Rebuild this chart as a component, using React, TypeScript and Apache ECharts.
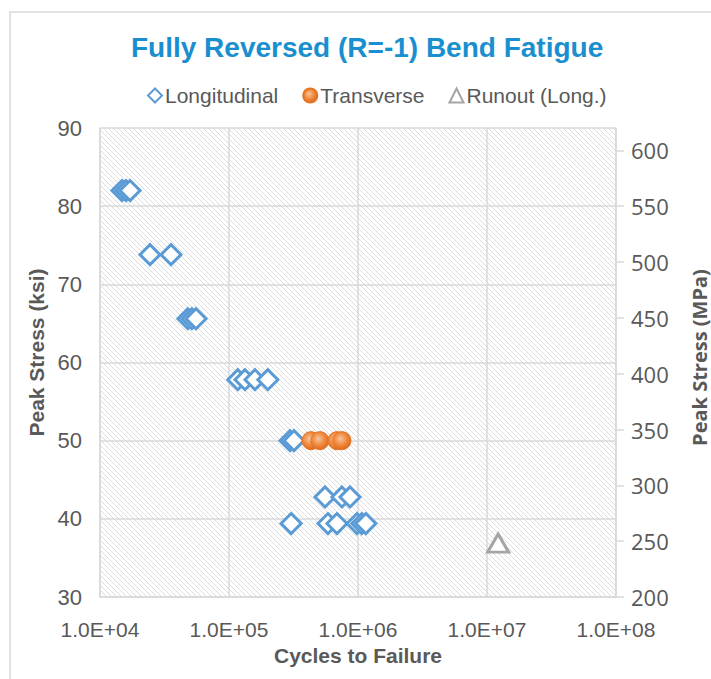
import React, { useEffect, useRef } from "react";
import * as echarts from "echarts";

// ---- data ----
const longCycles = [14800, 15900, 17100, 24400, 35500, 48000, 51600, 55500, 117000, 133000, 159000, 200000, 297000, 319000, 555000, 751000, 867000, 303000, 585000, 687000, 982000, 1070000, 1150000];
const longStress = [82, 82, 82, 73.8, 73.8, 65.6, 65.6, 65.6, 57.8, 57.8, 57.8, 57.8, 50, 50, 42.8, 42.8, 42.8, 39.4, 39.4, 39.4, 39.4, 39.4, 39.4];
const transCycles = [432000, 507000, 687000, 751000];
const transStress = [50, 50, 50, 50];
const runoutCycles = [12200000];
const runoutStress = [36.9];
const xTickLabels = ["1.0E+04", "1.0E+05", "1.0E+06", "1.0E+07", "1.0E+08"];
const seriesNames = ["Longitudinal", "Transverse", "Runout (Long.)"];

const GRID = { left: 100, top: 128, right: 95, bottom: 82 };
const W = 711, H = 679;

function makeHatch(): HTMLCanvasElement {
  const n = 5;
  const c = document.createElement("canvas");
  c.width = n;
  c.height = n;
  const ctx = c.getContext("2d")!;
  ctx.fillStyle = "#ffffff";
  ctx.fillRect(0, 0, n, n);
  ctx.fillStyle = "#dddddd";
  for (let i = 0; i < n; i++) ctx.fillRect(i, i, 1, 1);
  return c;
}

export default function App() {
  const ref = useRef<HTMLDivElement>(null);
  useEffect(() => {
    if (!ref.current) return;
    const chart = echarts.init(ref.current, null, { renderer: "svg" });
    const hatch = makeHatch();
    const font = "'Liberation Sans', Arial, sans-serif";
    const font2 = "'Open Sans', sans-serif";
    const gray = "#595959";
    const gridColor = "#d9d9d9";
    const zip = (a: number[], b: number[]) => a.map((v, i) => [v, b[i]]);
    const plotW = W - GRID.left - GRID.right;
    const plotH = H - GRID.top - GRID.bottom;
    chart.setOption({
      animation: false,
      backgroundColor: "#ffffff",
      title: {
        text: "Fully Reversed (R=-1) Bend Fatigue",
        left: 126,
        top: 28,
        textStyle: { color: "#1a8fd0", fontFamily: font, fontWeight: "bold", fontSize: 28 },
      },
      legend: {
        top: 80,
        left: 142,
        itemWidth: 14,
        itemHeight: 14,
        itemGap: 24,
        data: seriesNames,
        textStyle: { color: gray, fontFamily: font, fontSize: 21, padding: [0, 0, 0, -2] },
      },
      graphic: [
        {
          type: "rect",
          z: -10,
          silent: true,
          shape: { x: 10, y: 12, width: 760, height: 760 },
          style: { fill: "none", stroke: "#d9d9d9", lineWidth: 1.5 },
        },
        {
          type: "rect",
          z: -5,
          silent: true,
          shape: { x: GRID.left, y: GRID.top, width: plotW, height: plotH },
          style: { fill: { image: hatch, repeat: "repeat", imageWidth: 5, imageHeight: 5 } as any },
        },
      ],
      grid: { ...GRID, containLabel: false, outerBoundsMode: "none" },
      xAxis: {
        type: "log",
        logBase: 10,
        min: 1e4,
        max: 1e8,
        name: "Cycles to Failure",
        nameLocation: "middle",
        nameGap: 46,
        nameTextStyle: { color: gray, fontFamily: font, fontWeight: "bold", fontSize: 21 },
        axisLine: { show: true, lineStyle: { color: gridColor, width: 1.5 } },
        axisTick: { show: false },
        minorTick: { show: false },
        splitLine: { show: true, lineStyle: { color: gridColor, width: 1.5 } },
        axisLabel: {
          color: gray,
          fontFamily: font,
          fontSize: 21,
          margin: 22,
          formatter: (v: number) => xTickLabels[Math.round(Math.log10(v)) - 4] ?? "",
        },
      },
      yAxis: [
        {
          type: "value",
          min: 30,
          max: 90,
          interval: 10,
          name: "Peak Stress (ksi)",
          nameLocation: "middle",
          nameGap: 52,
          nameTextStyle: { color: gray, fontFamily: font, fontWeight: "bold", fontSize: 21, padding: [0, 0, 0, 20] },
          axisLine: { show: true, lineStyle: { color: gridColor, width: 1.5 } },
          axisTick: { show: false },
          splitLine: { show: true, lineStyle: { color: gridColor, width: 1.5 } },
          axisLabel: { color: gray, fontFamily: font, fontSize: 22, margin: 18 },
        },
        {
          type: "value",
          position: "right",
          min: 200,
          max: 620,
          interval: 50,
          name: "Peak Stress (MPa)",
          nameLocation: "middle",
          nameGap: 72,
          nameTextStyle: {
            color: gray,
            fontFamily: font2,
            fontWeight: "bold",
            fontSize: 20,
            lineHeight: 22,
            padding: [0, 0, 0, 10],
          },
          axisLine: { show: true, lineStyle: { color: gridColor, width: 1.5 } },
          axisTick: { show: true, inside: false, length: 8, lineStyle: { color: gridColor, width: 1.5 } },
          splitLine: { show: false },
          axisLabel: {
            color: gray,
            fontFamily: font2,
            fontSize: 22,
            margin: 15,
            showMaxLabel: false,
            formatter: (v: number) => (v % 50 === 0 ? String(v) : ""),
          },
        },
      ],
      series: [
        {
          name: seriesNames[0],
          type: "scatter",
          symbol: "diamond",
          symbolSize: 20,
          data: zip(longCycles, longStress),
          itemStyle: { color: "#ffffff", borderColor: "#5b9bd5", borderWidth: 3, opacity: 1 },
          z: 3,
        },
        {
          name: seriesNames[1],
          type: "scatter",
          symbol: "circle",
          symbolSize: 18,
          data: zip(transCycles, transStress),
          itemStyle: {
            color: {
              type: "radial",
              x: 0.42,
              y: 0.4,
              r: 0.62,
              colorStops: [
                { offset: 0, color: "#f8c5a0" },
                { offset: 0.55, color: "#f08a3e" },
                { offset: 1, color: "#db6a1e" },
              ],
            },
            borderColor: "#e47526",
            borderWidth: 1,
            opacity: 1,
          },
          z: 4,
        },
        {
          name: seriesNames[2],
          type: "scatter",
          symbol: "triangle",
          symbolSize: [21, 18],
          data: zip(runoutCycles, runoutStress),
          itemStyle: { color: "#ffffff", borderColor: "#a5a5a5", borderWidth: 3, opacity: 1 },
          z: 5,
        },
      ],
    });
    return () => chart.dispose();
  }, []);
  return (
    <div
      ref={ref}
      style={{ position: "absolute", left: 0, top: 0, width: W, height: H, background: "#fff" }}
    />
  );
}
